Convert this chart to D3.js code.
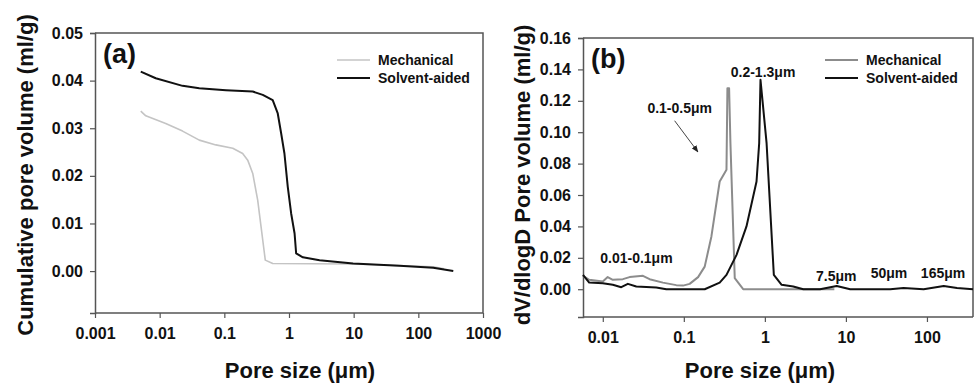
<!DOCTYPE html>
<html>
<head>
<meta charset="utf-8">
<script src="https://cdn.jsdelivr.net/npm/d3@7"></script>
<style>
    body { margin: 0; background: #fff; }
    svg { display: block; font-family: "Liberation Sans", Arial, sans-serif; font-weight: bold; }
</style>
</head>
<body>
<div id="chart"></div>
<script>
// (a) cumulative pore volume, [pore size um, ml/g]
const cumMechanical = [
    [0.0051, 0.0336], [0.0061, 0.0326], [0.0124, 0.031], [0.0226, 0.0294],
    [0.041, 0.0275], [0.074, 0.0265], [0.135, 0.0258], [0.192, 0.0247],
    [0.23, 0.0233], [0.275, 0.0205], [0.328, 0.0149], [0.37, 0.0093],
    [0.417, 0.0037], [0.43, 0.0023], [0.56, 0.0016], [9.8, 0.0015],
    [170, 0.0009], [250, 0.0005],
]
const cumSolvent = [
    [0.0051, 0.0419], [0.0087, 0.0405], [0.0226, 0.0389], [0.041, 0.0384],
    [0.106, 0.038], [0.275, 0.0377], [0.393, 0.037], [0.56, 0.0359],
    [0.67, 0.0331], [0.757, 0.0289], [0.85, 0.0247], [0.957, 0.0177],
    [1.08, 0.0121], [1.22, 0.0079], [1.29, 0.0037], [1.64, 0.0029],
    [2.97, 0.0023], [9.8, 0.0016], [51, 0.0011], [170, 0.0007], [347, 0],
]

// (b) dV/dlogD, [pore size um, ml/g]
const difMechanical = [
    [0.0057, 0.0085], [0.0068, 0.006], [0.01, 0.0049], [0.0115, 0.0077],
    [0.0133, 0.006], [0.0177, 0.0064], [0.0214, 0.0077], [0.0313, 0.0085],
    [0.0378, 0.0064], [0.0552, 0.0042], [0.0807, 0.0026], [0.0977, 0.0023],
    [0.118, 0.0034], [0.15, 0.0077], [0.181, 0.0144], [0.219, 0.0336],
    [0.277, 0.0686], [0.336, 0.0761], [0.345, 0.128], [0.362, 0.128],
    [0.376, 0.093], [0.425, 0.007], [0.54, 0], [7.2, 0],
]
const difSolvent = [
    [0.0057, 0.0091], [0.0068, 0.0042], [0.01, 0.0038], [0.0133, 0.0028],
    [0.0169, 0.0013], [0.0204, 0.0034], [0.0259, 0.0017], [0.0457, 0.0011],
    [0.0608, 0], [0.181, 0], [0.277, 0.0042], [0.336, 0.0091],
    [0.447, 0.0219], [0.593, 0.04], [0.789, 0.0686], [0.851, 0.093],
    [0.883, 0.1334], [1.05, 0.093], [1.29, 0.0091], [1.61, 0.0028],
    [2.24, 0.0017], [2.98, 0], [4.79, 0], [7.7, 0.0021], [11.3, 0],
    [35.2, 0], [51.4, 0.0008], [91, 0], [161, 0.0021], [235, 0.0008], [370, 0],
]

const xTicksA = [0.001, 0.01, 0.1, 1, 10, 100, 1000]
const yTicksA = [0, 0.01, 0.02, 0.03, 0.04, 0.05]
const xTicksB = [0.01, 0.1, 1, 10, 100]
const yTicksB = [0, 0.02, 0.04, 0.06, 0.08, 0.1, 0.12, 0.14, 0.16]

const seriesNames = ["Mechanical", "Solvent-aided"]

// labels on panel (b): [text, size um, value]
const peakLabels = [
    ["0.2-1.3\u03bcm", 0.95, 0.138],
    ["0.1-0.5\u03bcm", 0.089, 0.1155],
    ["0.01-0.1\u03bcm", 0.026, 0.0195],
    ["7.5\u03bcm", 7.6, 0.0085],
    ["50\u03bcm", 34, 0.0105],
    ["165\u03bcm", 158, 0.0105],
]
const arrowB = [[0.077, 0.1073], [0.149, 0.0875]]

const width = 974
const height = 383

const svg = d3.select("#chart")
    .append("svg")
    .attr("width", width)
    .attr("height", height)

svg.append("defs")
    .append("marker")
    .attr("id", "arrowhead")
    .attr("viewBox", [0, 0, 10, 10])
    .attr("refX", 9)
    .attr("refY", 5)
    .attr("markerWidth", 7)
    .attr("markerHeight", 7)
    .attr("markerUnits", "userSpaceOnUse")
    .attr("orient", "auto")
    .append("path")
    .attr("d", "M0,1 L10,5 L0,9 z")
    .attr("fill", "#222")

let drawPanel = (opt) => {
    const x = d3.scaleLog().domain(opt.xDomain).range([opt.left, opt.right])
    const y = d3.scaleLinear().domain(opt.yDomain).range([opt.bottom, opt.top])
    const g = svg.append("g")
    const axisColor = "#555"

    // frame on top and right
    g.append("path")
        .attr("d", `M${opt.left},${opt.top}H${opt.right}V${opt.bottom}`)
        .attr("fill", "none")
        .attr("stroke", axisColor)
        .attr("stroke-width", 1.5)

    const xAxis = g.append("g")
        .attr("transform", `translate(0,${opt.bottom})`)
        .call(d3.axisBottom(x).tickValues(opt.xTicks).tickFormat((d) => String(d)).tickSizeOuter(0).tickSize(5).tickPadding(10))
    const yAxis = g.append("g")
        .attr("transform", `translate(${opt.left},0)`)
        .call(d3.axisLeft(y).tickValues(opt.yTicks).tickFormat(d3.format(".2f")).tickSizeOuter(0).tickSize(5).tickPadding(7))

    for (let ax of [xAxis, yAxis]) {
        ax.select(".domain").attr("stroke", axisColor).attr("stroke-width", 1.5)
        ax.selectAll(".tick line").attr("stroke", axisColor).attr("stroke-width", 1.2)
        ax.selectAll(".tick text")
            .attr("fill", "#111")
            .style("font-size", "16px")
            .style("font-weight", "bold")
            .style("font-family", '"Liberation Sans", Arial, sans-serif')
    }
    // x axis line spans the whole bottom
    xAxis.select(".domain").attr("d", `M${opt.left},0H${opt.right}`)

    const line = d3.line().x((d) => x(d[0])).y((d) => y(d[1]))
    opt.series.forEach((s, i) => {
        g.append("path")
            .datum(s.data)
            .attr("fill", "none")
            .attr("stroke", s.color)
            .attr("stroke-width", s.width)
            .attr("stroke-linejoin", "round")
            .attr("d", line)
    })

    // legend
    opt.series.forEach((s, i) => {
        const ly = opt.legendY + i * 18
        g.append("line")
            .attr("x1", opt.legendX).attr("x2", opt.legendX + 33)
            .attr("y1", ly).attr("y2", ly)
            .attr("stroke", s.color)
            .attr("stroke-width", s.width)
        g.append("text")
            .attr("x", opt.legendX + 41)
            .attr("y", ly + 5)
            .style("font-size", "14px")
            .attr("fill", "#111")
            .text(seriesNames[i])
    })

    g.append("text")
        .attr("x", opt.left + 8)
        .attr("y", opt.top + 30)
        .style("font-size", "27px")
        .attr("fill", "#111")
        .text(opt.tag)

    g.append("text")
        .attr("x", opt.xTitleX)
        .attr("y", 378)
        .attr("text-anchor", "middle")
        .style("font-size", "22px")
        .attr("fill", "#111")
        .text("Pore size (\u03bcm)")

    g.append("text")
        .attr("transform", `translate(${opt.yTitleX},${opt.yTitleY}) rotate(-90)`)
        .attr("text-anchor", "middle")
        .style("font-size", "22px")
        .attr("fill", "#111")
        .text(opt.yTitle)

    return {x, y, g}
}

drawPanel({
    left: 95, right: 483, top: 33, bottom: 313,
    xDomain: [0.001, 1000], yDomain: [-0.0088, 0.05],
    xTicks: xTicksA, yTicks: yTicksA,
    series: [
        {data: cumMechanical, color: "#c4c4c4", width: 1.6},
        {data: cumSolvent, color: "#111", width: 2},
    ],
    legendX: 337, legendY: 60,
    tag: "(a)",
    xTitleX: 300,
    yTitle: "Cumulative pore volume (ml/g)", yTitleX: 33, yTitleY: 175,
})

const pb = drawPanel({
    left: 583, right: 973, top: 38, bottom: 317,
    xDomain: [0.0057, 370], yDomain: [-0.0177, 0.16],
    xTicks: xTicksB, yTicks: yTicksB,
    series: [
        {data: difMechanical, color: "#8c8c8c", width: 2},
        {data: difSolvent, color: "#111", width: 2},
    ],
    legendX: 825, legendY: 60,
    tag: "(b)",
    xTitleX: 760,
    yTitle: "dV/dlogD Pore volume (ml/g)", yTitleX: 530, yTitleY: 175,
})

for (let [t, sx, sy] of peakLabels) {
    pb.g.append("text")
        .attr("x", pb.x(sx))
        .attr("y", pb.y(sy))
        .attr("dy", "0.35em")
        .attr("text-anchor", "middle")
        .style("font-size", "14px")
        .attr("fill", "#111")
        .text(t)
}

pb.g.append("line")
    .attr("x1", pb.x(arrowB[0][0])).attr("y1", pb.y(arrowB[0][1]))
    .attr("x2", pb.x(arrowB[1][0])).attr("y2", pb.y(arrowB[1][1]))
    .attr("stroke", "#444")
    .attr("stroke-width", 1)
    .attr("marker-end", "url(#arrowhead)")
</script>
</body>
</html>
